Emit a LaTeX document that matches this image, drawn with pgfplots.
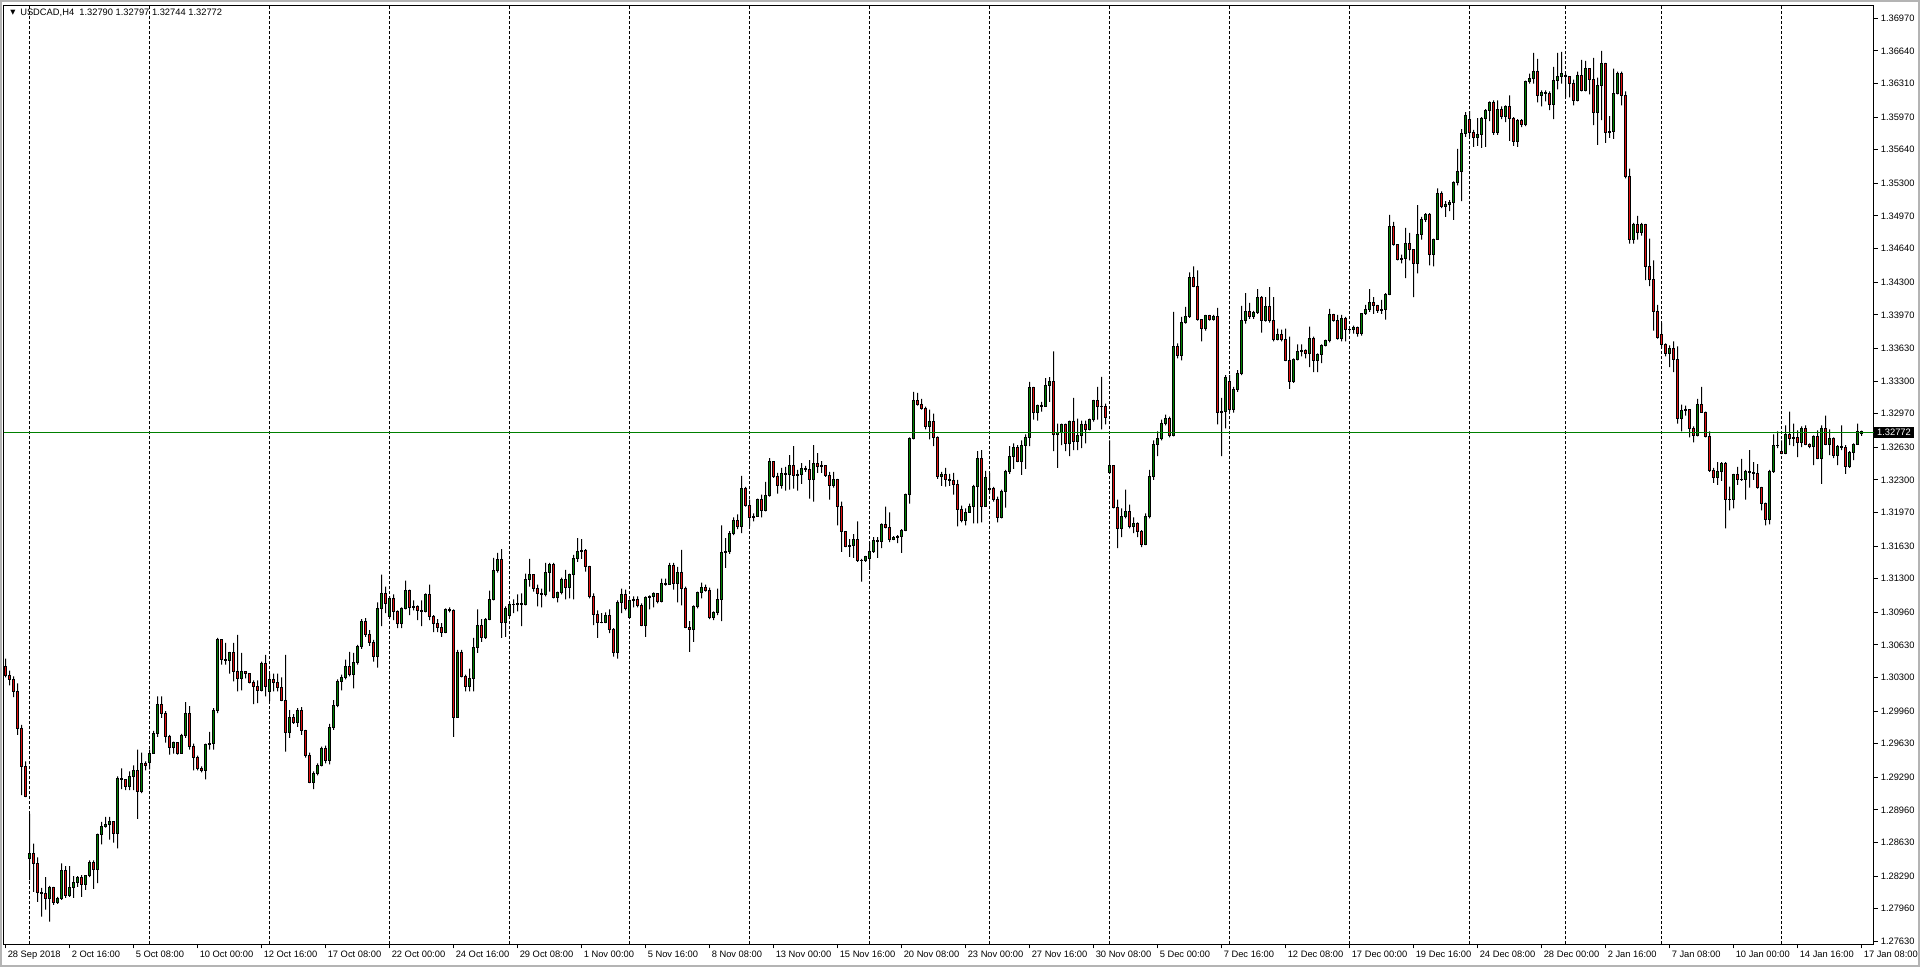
\documentclass[border=0pt]{standalone}
\usepackage{fontspec}
\setmainfont{Liberation Sans}
\newfontfamily\dejavu{DejaVu Sans}
\usepackage{pgfplots}
\usepackage{pgfplotstable}
\pgfplotsset{compat=1.18}
\definecolor{bull}{RGB}{0,128,0}
\definecolor{bear}{RGB}{225,15,15}
\definecolor{bidline}{RGB}{0,128,0}
\definecolor{winframe}{RGB}{180,180,180}
\pgfplotstableread{
i o h l c
0 1.3041 1.3049 1.3030 1.3032
1 1.3032 1.3037 1.3022 1.3028
2 1.3028 1.3031 1.3010 1.3016
3 1.3016 1.3024 1.2972 1.2978
4 1.2978 1.2982 1.2911 1.2940
5 1.2940 1.2945 1.2909 1.2910
6 1.2847 1.2892 1.2825 1.2852
7 1.2852 1.2862 1.2813 1.2842
8 1.2842 1.2848 1.2803 1.2812
9 1.2812 1.2817 1.2788 1.2811
10 1.2811 1.2828 1.2795 1.2806
11 1.2806 1.2819 1.2783 1.2817
12 1.2817 1.2818 1.2800 1.2802
13 1.2802 1.2808 1.2801 1.2806
14 1.2806 1.2842 1.2805 1.2835
15 1.2835 1.2839 1.2807 1.2809
16 1.2809 1.2839 1.2808 1.2817
17 1.2817 1.2829 1.2807 1.2823
18 1.2823 1.2829 1.2818 1.2828
19 1.2828 1.2830 1.2808 1.2821
20 1.2821 1.2830 1.2815 1.2830
21 1.2830 1.2845 1.2828 1.2843
22 1.2843 1.2845 1.2816 1.2836
23 1.2836 1.2872 1.2822 1.2871
24 1.2871 1.2884 1.2861 1.2879
25 1.2879 1.2889 1.2878 1.2881
26 1.2881 1.2889 1.2866 1.2884
27 1.2884 1.2884 1.2863 1.2872
28 1.2872 1.2930 1.2857 1.2928
29 1.2928 1.2938 1.2917 1.2927
30 1.2927 1.2927 1.2916 1.2920
31 1.2920 1.2935 1.2916 1.2930
32 1.2930 1.2941 1.2916 1.2936
33 1.2936 1.2957 1.2887 1.2915
34 1.2915 1.2954 1.2913 1.2943
35 1.2943 1.2945 1.2936 1.2941
36 1.2944 1.2957 1.2937 1.2953
37 1.2953 1.2976 1.2953 1.2973
38 1.2973 1.3011 1.2970 1.3003
39 1.3003 1.3011 1.2989 1.2994
40 1.2994 1.2996 1.2964 1.2970
41 1.2970 1.2972 1.2952 1.2959
42 1.2959 1.2965 1.2953 1.2964
43 1.2964 1.2964 1.2952 1.2953
44 1.2953 1.2973 1.2953 1.2971
45 1.2971 1.3005 1.2969 1.2994
46 1.2994 1.3001 1.2957 1.2960
47 1.2960 1.2963 1.2936 1.2949
48 1.2949 1.2951 1.2936 1.2938
49 1.2938 1.2940 1.2934 1.2936
50 1.2936 1.2963 1.2927 1.2962
51 1.2962 1.2975 1.2957 1.2963
52 1.2963 1.2999 1.2957 1.2997
53 1.2997 1.3070 1.2994 1.3068
54 1.3068 1.3068 1.3043 1.3048
55 1.3048 1.3065 1.3043 1.3047
56 1.3047 1.3056 1.3034 1.3055
57 1.3055 1.3065 1.3026 1.3036
58 1.3036 1.3073 1.3016 1.3029
59 1.3029 1.3055 1.3017 1.3036
60 1.3036 1.3036 1.3029 1.3034
61 1.3034 1.3034 1.3024 1.3025
62 1.3025 1.3027 1.3003 1.3021
63 1.3021 1.3027 1.3004 1.3017
64 1.3017 1.3046 1.3016 1.3044
65 1.3044 1.3053 1.3011 1.3021
66 1.3016 1.3034 1.3006 1.3028
67 1.3028 1.3034 1.3016 1.3025
68 1.3025 1.3034 1.3016 1.3020
69 1.3020 1.3030 1.3006 1.3007
70 1.3007 1.3053 1.2955 1.2974
71 1.2974 1.2997 1.2969 1.2990
72 1.2990 1.2993 1.2983 1.2984
73 1.2984 1.2999 1.2980 1.2997
74 1.2997 1.3000 1.2972 1.2976
75 1.2976 1.2977 1.2949 1.2951
76 1.2951 1.2954 1.2923 1.2924
77 1.2924 1.2935 1.2917 1.2933
78 1.2933 1.2943 1.2931 1.2941
79 1.2941 1.2960 1.2940 1.2958
80 1.2958 1.2961 1.2943 1.2946
81 1.2946 1.2983 1.2942 1.2979
82 1.2979 1.3007 1.2977 1.3002
83 1.3002 1.3028 1.3000 1.3026
84 1.3026 1.3033 1.3017 1.3030
85 1.3030 1.3048 1.3028 1.3041
86 1.3041 1.3056 1.3031 1.3033
87 1.3033 1.3055 1.3019 1.3045
88 1.3045 1.3063 1.3043 1.3061
89 1.3061 1.3089 1.3059 1.3087
90 1.3087 1.3090 1.3071 1.3073
91 1.3073 1.3078 1.3062 1.3065
92 1.3065 1.3068 1.3046 1.3051
93 1.3051 1.3106 1.3040 1.3100
94 1.3100 1.3134 1.3082 1.3115
95 1.3115 1.3122 1.3095 1.3105
96 1.3092 1.3112 1.3090 1.3110
97 1.3110 1.3114 1.3088 1.3097
98 1.3097 1.3098 1.3080 1.3085
99 1.3085 1.3101 1.3080 1.3100
100 1.3100 1.3128 1.3099 1.3118
101 1.3118 1.3119 1.3093 1.3101
102 1.3101 1.3108 1.3098 1.3102
103 1.3102 1.3103 1.3088 1.3098
104 1.3098 1.3108 1.3082 1.3097
105 1.3097 1.3115 1.3096 1.3114
106 1.3114 1.3124 1.3088 1.3092
107 1.3092 1.3093 1.3076 1.3085
108 1.3085 1.3089 1.3076 1.3081
109 1.3081 1.3085 1.3071 1.3076
110 1.3076 1.3100 1.3075 1.3099
111 1.3099 1.3101 1.3096 1.3098
112 1.3098 1.3099 1.2970 1.2990
113 1.2990 1.3058 1.2989 1.3055
114 1.3055 1.3058 1.3030 1.3031
115 1.3031 1.3033 1.3016 1.3021
116 1.3021 1.3039 1.3016 1.3029
117 1.3029 1.3070 1.3016 1.3060
118 1.3060 1.3099 1.3055 1.3083
119 1.3083 1.3089 1.3066 1.3070
120 1.3070 1.3090 1.3069 1.3089
121 1.3089 1.3118 1.3088 1.3109
122 1.3109 1.3151 1.3108 1.3138
123 1.3138 1.3156 1.3136 1.3149
124 1.3149 1.3160 1.3070 1.3086
125 1.3086 1.3102 1.3071 1.3100
126 1.3093 1.3106 1.3091 1.3104
127 1.3104 1.3109 1.3095 1.3104
128 1.3104 1.3114 1.3097 1.3105
129 1.3105 1.3115 1.3082 1.3104
130 1.3104 1.3135 1.3103 1.3129
131 1.3129 1.3150 1.3122 1.3134
132 1.3134 1.3134 1.3117 1.3120
133 1.3120 1.3124 1.3102 1.3115
134 1.3115 1.3120 1.3101 1.3114
135 1.3114 1.3146 1.3112 1.3136
136 1.3136 1.3146 1.3117 1.3144
137 1.3144 1.3146 1.3110 1.3111
138 1.3111 1.3117 1.3106 1.3116
139 1.3116 1.3131 1.3114 1.3129
140 1.3129 1.3139 1.3109 1.3121
141 1.3121 1.3135 1.3110 1.3134
142 1.3134 1.3154 1.3109 1.3150
143 1.3150 1.3171 1.3147 1.3157
144 1.3157 1.3170 1.3150 1.3158
145 1.3158 1.3160 1.3137 1.3142
146 1.3142 1.3143 1.3110 1.3112
147 1.3112 1.3115 1.3083 1.3094
148 1.3094 1.3098 1.3070 1.3086
149 1.3086 1.3095 1.3085 1.3086
150 1.3086 1.3096 1.3085 1.3093
151 1.3093 1.3099 1.3075 1.3079
152 1.3079 1.3080 1.3051 1.3055
153 1.3055 1.3108 1.3049 1.3106
154 1.3106 1.3120 1.3095 1.3114
155 1.3114 1.3119 1.3098 1.3100
156 1.3091 1.3109 1.3090 1.3108
157 1.3108 1.3112 1.3101 1.3109
158 1.3109 1.3112 1.3101 1.3103
159 1.3103 1.3105 1.3082 1.3083
160 1.3083 1.3112 1.3071 1.3111
161 1.3111 1.3113 1.3099 1.3112
162 1.3112 1.3116 1.3101 1.3115
163 1.3115 1.3115 1.3105 1.3107
164 1.3107 1.3130 1.3106 1.3125
165 1.3125 1.3130 1.3123 1.3124
166 1.3124 1.3146 1.3124 1.3143
167 1.3143 1.3146 1.3119 1.3125
168 1.3125 1.3142 1.3106 1.3136
169 1.3136 1.3159 1.3103 1.3120
170 1.3120 1.3122 1.3080 1.3081
171 1.3081 1.3087 1.3056 1.3079
172 1.3079 1.3103 1.3066 1.3102
173 1.3102 1.3117 1.3100 1.3116
174 1.3116 1.3126 1.3110 1.3121
175 1.3121 1.3124 1.3117 1.3118
176 1.3118 1.3121 1.3089 1.3091
177 1.3091 1.3097 1.3088 1.3096
178 1.3096 1.3120 1.3093 1.3109
179 1.3109 1.3184 1.3087 1.3156
180 1.3156 1.3171 1.3141 1.3157
181 1.3157 1.3178 1.3155 1.3176
182 1.3176 1.3192 1.3174 1.3189
183 1.3189 1.3195 1.3180 1.3183
184 1.3183 1.3234 1.3176 1.3221
185 1.3221 1.3223 1.3203 1.3204
186 1.3204 1.3210 1.3183 1.3192
187 1.3192 1.3196 1.3188 1.3193
188 1.3193 1.3211 1.3193 1.3210
189 1.3210 1.3215 1.3192 1.3199
190 1.3199 1.3228 1.3198 1.3214
191 1.3214 1.3252 1.3213 1.3249
192 1.3249 1.3249 1.3232 1.3233
193 1.3233 1.3237 1.3216 1.3224
194 1.3224 1.3242 1.3221 1.3236
195 1.3236 1.3243 1.3219 1.3235
196 1.3235 1.3255 1.3220 1.3244
197 1.3244 1.3264 1.3221 1.3234
198 1.3234 1.3240 1.3219 1.3235
199 1.3235 1.3247 1.3226 1.3241
200 1.3241 1.3244 1.3238 1.3240
201 1.3240 1.3250 1.3211 1.3230
202 1.3230 1.3265 1.3208 1.3247
203 1.3247 1.3257 1.3237 1.3243
204 1.3243 1.3249 1.3237 1.3245
205 1.3245 1.3245 1.3233 1.3234
206 1.3234 1.3238 1.3210 1.3224
207 1.3224 1.3238 1.3222 1.3230
208 1.3230 1.3231 1.3184 1.3203
209 1.3203 1.3208 1.3157 1.3178
210 1.3178 1.3178 1.3162 1.3163
211 1.3163 1.3170 1.3152 1.3164
212 1.3164 1.3175 1.3151 1.3170
213 1.3170 1.3188 1.3147 1.3148
214 1.3148 1.3150 1.3127 1.3148
215 1.3148 1.3153 1.3147 1.3152
216 1.3150 1.3167 1.3139 1.3157
217 1.3157 1.3172 1.3156 1.3169
218 1.3169 1.3172 1.3151 1.3168
219 1.3168 1.3186 1.3161 1.3185
220 1.3185 1.3203 1.3181 1.3182
221 1.3182 1.3197 1.3167 1.3170
222 1.3170 1.3173 1.3169 1.3172
223 1.3172 1.3174 1.3166 1.3173
224 1.3173 1.3180 1.3156 1.3179
225 1.3179 1.3216 1.3178 1.3215
226 1.3215 1.3273 1.3206 1.3272
227 1.3272 1.3319 1.3271 1.3310
228 1.3310 1.3318 1.3305 1.3306
229 1.3306 1.3312 1.3301 1.3302
230 1.3302 1.3304 1.3281 1.3284
231 1.3284 1.3301 1.3271 1.3289
232 1.3289 1.3297 1.3264 1.3273
233 1.3273 1.3274 1.3231 1.3233
234 1.3233 1.3238 1.3224 1.3235
235 1.3235 1.3242 1.3223 1.3230
236 1.3230 1.3236 1.3224 1.3229
237 1.3229 1.3237 1.3215 1.3225
238 1.3225 1.3230 1.3183 1.3200
239 1.3200 1.3204 1.3187 1.3189
240 1.3189 1.3201 1.3184 1.3197
241 1.3197 1.3206 1.3197 1.3203
242 1.3203 1.3225 1.3186 1.3223
243 1.3223 1.3259 1.3186 1.3252
244 1.3252 1.3260 1.3187 1.3203
245 1.3203 1.3239 1.3203 1.3232
246 1.3220 1.3237 1.3216 1.3221
247 1.3221 1.3223 1.3208 1.3210
248 1.3210 1.3213 1.3187 1.3192
249 1.3192 1.3220 1.3191 1.3218
250 1.3218 1.3240 1.3202 1.3238
251 1.3238 1.3264 1.3236 1.3254
252 1.3254 1.3267 1.3241 1.3263
253 1.3263 1.3265 1.3248 1.3249
254 1.3249 1.3270 1.3235 1.3265
255 1.3265 1.3276 1.3241 1.3273
256 1.3273 1.3329 1.3264 1.3323
257 1.3323 1.3324 1.3291 1.3298
258 1.3298 1.3306 1.3290 1.3305
259 1.3305 1.3309 1.3299 1.3304
260 1.3304 1.3333 1.3304 1.3325
261 1.3325 1.3334 1.3309 1.3330
262 1.3330 1.3360 1.3259 1.3276
263 1.3276 1.3287 1.3242 1.3278
264 1.3278 1.3287 1.3265 1.3286
265 1.3286 1.3287 1.3259 1.3267
266 1.3267 1.3290 1.3254 1.3289
267 1.3289 1.3313 1.3260 1.3269
268 1.3269 1.3292 1.3260 1.3275
269 1.3275 1.3290 1.3262 1.3286
270 1.3286 1.3290 1.3267 1.3281
271 1.3281 1.3292 1.3280 1.3291
272 1.3291 1.3311 1.3289 1.3310
273 1.3310 1.3324 1.3291 1.3304
274 1.3304 1.3334 1.3281 1.3304
275 1.3304 1.3307 1.3286 1.3293
276 1.3237 1.3270 1.3236 1.3244
277 1.3244 1.3245 1.3201 1.3202
278 1.3202 1.3210 1.3161 1.3181
279 1.3181 1.3201 1.3172 1.3193
280 1.3193 1.3220 1.3191 1.3198
281 1.3198 1.3205 1.3181 1.3183
282 1.3183 1.3192 1.3176 1.3186
283 1.3186 1.3187 1.3172 1.3178
284 1.3178 1.3179 1.3162 1.3165
285 1.3165 1.3196 1.3164 1.3193
286 1.3193 1.3240 1.3191 1.3233
287 1.3233 1.3270 1.3230 1.3266
288 1.3266 1.3279 1.3254 1.3272
289 1.3272 1.3291 1.3270 1.3287
290 1.3287 1.3296 1.3285 1.3292
291 1.3292 1.3294 1.3273 1.3275
292 1.3275 1.3400 1.3274 1.3365
293 1.3365 1.3368 1.3353 1.3356
294 1.3356 1.3395 1.3351 1.3389
295 1.3389 1.3405 1.3388 1.3395
296 1.3395 1.3440 1.3394 1.3435
297 1.3435 1.3446 1.3425 1.3426
298 1.3426 1.3442 1.3391 1.3392
299 1.3392 1.3392 1.3370 1.3383
300 1.3383 1.3397 1.3381 1.3396
301 1.3396 1.3397 1.3391 1.3392
302 1.3392 1.3397 1.3391 1.3395
303 1.3395 1.3404 1.3286 1.3298
304 1.3298 1.3313 1.3254 1.3299
305 1.3299 1.3336 1.3282 1.3334
306 1.3330 1.3336 1.3299 1.3301
307 1.3301 1.3324 1.3298 1.3321
308 1.3321 1.3341 1.3319 1.3338
309 1.3338 1.3406 1.3336 1.3391
310 1.3391 1.3419 1.3388 1.3400
311 1.3400 1.3409 1.3393 1.3395
312 1.3395 1.3401 1.3393 1.3399
313 1.3399 1.3423 1.3398 1.3414
314 1.3414 1.3416 1.3379 1.3391
315 1.3391 1.3415 1.3390 1.3405
316 1.3405 1.3425 1.3389 1.3391
317 1.3391 1.3415 1.3370 1.3372
318 1.3372 1.3383 1.3371 1.3377
319 1.3377 1.3382 1.3370 1.3372
320 1.3372 1.3383 1.3350 1.3351
321 1.3351 1.3375 1.3322 1.3329
322 1.3329 1.3353 1.3328 1.3352
323 1.3352 1.3367 1.3351 1.3360
324 1.3360 1.3367 1.3355 1.3361
325 1.3361 1.3362 1.3353 1.3358
326 1.3358 1.3385 1.3344 1.3373
327 1.3373 1.3375 1.3339 1.3351
328 1.3351 1.3358 1.3339 1.3357
329 1.3357 1.3367 1.3348 1.3366
330 1.3366 1.3372 1.3365 1.3371
331 1.3371 1.3403 1.3369 1.3397
332 1.3397 1.3398 1.3390 1.3391
333 1.3391 1.3397 1.3372 1.3373
334 1.3373 1.3397 1.3370 1.3393
335 1.3393 1.3395 1.3370 1.3382
336 1.3382 1.3383 1.3379 1.3382
337 1.3382 1.3386 1.3378 1.3384
338 1.3384 1.3385 1.3375 1.3378
339 1.3378 1.3398 1.3376 1.3398
340 1.3398 1.3407 1.3397 1.3402
341 1.3402 1.3423 1.3400 1.3409
342 1.3409 1.3415 1.3398 1.3406
343 1.3406 1.3407 1.3399 1.3401
344 1.3401 1.3412 1.3398 1.3402
345 1.3402 1.3419 1.3392 1.3418
346 1.3418 1.3498 1.3417 1.3486
347 1.3486 1.3491 1.3467 1.3468
348 1.3468 1.3468 1.3452 1.3453
349 1.3453 1.3458 1.3449 1.3454
350 1.3454 1.3485 1.3434 1.3469
351 1.3469 1.3480 1.3452 1.3463
352 1.3463 1.3463 1.3415 1.3449
353 1.3449 1.3508 1.3439 1.3478
354 1.3478 1.3496 1.3473 1.3493
355 1.3493 1.3500 1.3491 1.3498
356 1.3498 1.3500 1.3447 1.3458
357 1.3458 1.3474 1.3446 1.3473
358 1.3473 1.3525 1.3473 1.3520
359 1.3520 1.3522 1.3505 1.3507
360 1.3507 1.3512 1.3496 1.3509
361 1.3509 1.3513 1.3502 1.3511
362 1.3511 1.3532 1.3493 1.3531
363 1.3531 1.3565 1.3528 1.3542
364 1.3542 1.3585 1.3512 1.3580
365 1.3580 1.3602 1.3577 1.3599
366 1.3595 1.3603 1.3577 1.3581
367 1.3581 1.3584 1.3567 1.3576
368 1.3576 1.3596 1.3568 1.3579
369 1.3579 1.3597 1.3566 1.3596
370 1.3596 1.3605 1.3567 1.3604
371 1.3604 1.3613 1.3593 1.3612
372 1.3612 1.3614 1.3579 1.3581
373 1.3581 1.3614 1.3579 1.3605
374 1.3605 1.3608 1.3595 1.3598
375 1.3598 1.3609 1.3592 1.3608
376 1.3608 1.3619 1.3573 1.3596
377 1.3596 1.3597 1.3568 1.3572
378 1.3572 1.3595 1.3567 1.3594
379 1.3594 1.3595 1.3587 1.3590
380 1.3590 1.3634 1.3588 1.3633
381 1.3633 1.3641 1.3631 1.3636
382 1.3636 1.3662 1.3631 1.3643
383 1.3643 1.3656 1.3612 1.3619
384 1.3619 1.3624 1.3608 1.3622
385 1.3622 1.3624 1.3613 1.3621
386 1.3621 1.3623 1.3604 1.3610
387 1.3610 1.3648 1.3595 1.3634
388 1.3634 1.3662 1.3625 1.3638
389 1.3638 1.3663 1.3631 1.3641
390 1.3639 1.3641 1.3617 1.3638
391 1.3638 1.3638 1.3617 1.3631
392 1.3631 1.3635 1.3609 1.3614
393 1.3614 1.3643 1.3613 1.3639
394 1.3639 1.3655 1.3623 1.3624
395 1.3624 1.3654 1.3623 1.3646
396 1.3646 1.3646 1.3620 1.3635
397 1.3635 1.3657 1.3589 1.3602
398 1.3602 1.3637 1.3569 1.3629
399 1.3629 1.3664 1.3594 1.3651
400 1.3651 1.3652 1.3571 1.3581
401 1.3581 1.3598 1.3576 1.3582
402 1.3582 1.3646 1.3575 1.3621
403 1.3621 1.3643 1.3620 1.3641
404 1.3641 1.3643 1.3609 1.3619
405 1.3619 1.3623 1.3535 1.3537
406 1.3537 1.3545 1.3469 1.3473
407 1.3473 1.3490 1.3469 1.3488
408 1.3488 1.3497 1.3473 1.3480
409 1.3480 1.3490 1.3477 1.3488
410 1.3488 1.3489 1.3432 1.3446
411 1.3446 1.3474 1.3426 1.3433
412 1.3433 1.3452 1.3381 1.3400
413 1.3400 1.3407 1.3373 1.3374
414 1.3377 1.3389 1.3363 1.3367
415 1.3367 1.3368 1.3355 1.3358
416 1.3358 1.3366 1.3344 1.3363
417 1.3363 1.3370 1.3339 1.3352
418 1.3352 1.3365 1.3287 1.3292
419 1.3292 1.3306 1.3279 1.3300
420 1.3300 1.3305 1.3295 1.3301
421 1.3301 1.3301 1.3273 1.3282
422 1.3282 1.3284 1.3268 1.3275
423 1.3275 1.3312 1.3274 1.3306
424 1.3306 1.3324 1.3298 1.3298
425 1.3298 1.3299 1.3273 1.3274
426 1.3274 1.3279 1.3238 1.3239
427 1.3239 1.3242 1.3227 1.3232
428 1.3232 1.3248 1.3225 1.3238
429 1.3238 1.3248 1.3229 1.3247
430 1.3247 1.3248 1.3181 1.3210
431 1.3210 1.3223 1.3199 1.3210
432 1.3210 1.3236 1.3201 1.3235
433 1.3235 1.3243 1.3225 1.3230
434 1.3230 1.3251 1.3229 1.3230
435 1.3230 1.3240 1.3210 1.3238
436 1.3238 1.3260 1.3222 1.3237
437 1.3237 1.3248 1.3230 1.3236
438 1.3236 1.3246 1.3221 1.3222
439 1.3222 1.3223 1.3199 1.3206
440 1.3206 1.3207 1.3184 1.3190
441 1.3190 1.3240 1.3185 1.3238
442 1.3238 1.3276 1.3237 1.3265
443 1.3265 1.3279 1.3262 1.3265
444 1.3259 1.3270 1.3256 1.3257
445 1.3257 1.3285 1.3256 1.3276
446 1.3276 1.3299 1.3265 1.3272
447 1.3272 1.3287 1.3264 1.3273
448 1.3273 1.3280 1.3253 1.3268
449 1.3268 1.3284 1.3263 1.3282
450 1.3282 1.3285 1.3265 1.3266
451 1.3266 1.3267 1.3262 1.3264
452 1.3264 1.3275 1.3245 1.3274
453 1.3274 1.3280 1.3251 1.3252
454 1.3252 1.3285 1.3226 1.3282
455 1.3282 1.3295 1.3265 1.3266
456 1.3266 1.3281 1.3255 1.3272
457 1.3272 1.3273 1.3252 1.3255
458 1.3255 1.3265 1.3245 1.3264
459 1.3264 1.3285 1.3260 1.3263
460 1.3263 1.3265 1.3236 1.3243
461 1.3243 1.3259 1.3242 1.3258
462 1.3258 1.3267 1.3250 1.3266
463 1.3266 1.3287 1.3266 1.3279
464 1.32790 1.32797 1.32744 1.32772
}\candles
\begin{document}
\begin{tikzpicture}[x=1pt,y=1pt]
\useasboundingbox (0,0) rectangle (1440,725.25);
\fill[white] (0,0) rectangle (1440,725.25);
\draw[winframe, line width=1.5pt] (0.75,0.75) rectangle (1439.25,724.5);
\begin{axis}[
  at={(2.625pt,16.875pt)}, anchor=south west,
  scale only axis, width=1402.5pt, height=704.25pt,
  xmin=-0.5, xmax=467, ymin=1.27598, ymax=1.37100,
  ybar stacked, bar shift=0pt,
  clip mode=individual,
  axis line style={black, line width=0.75pt},
  tick style={black, line width=0.75pt},
  tick align=outside, major tick length=3pt,
  xtick pos=bottom, ytick pos=right, yticklabel pos=right,
  xtick={0,16,...,464},
  xticklabels={28 Sep 2018, 2 Oct 16:00, 5 Oct 08:00, 10 Oct 00:00, 12 Oct 16:00, 17 Oct 08:00, 22 Oct 00:00, 24 Oct 16:00, 29 Oct 08:00, 1 Nov 00:00, 5 Nov 16:00, 8 Nov 08:00, 13 Nov 00:00, 15 Nov 16:00, 20 Nov 08:00, 23 Nov 00:00, 27 Nov 16:00, 30 Nov 08:00, 5 Dec 00:00, 7 Dec 16:00, 12 Dec 08:00, 17 Dec 00:00, 19 Dec 16:00, 24 Dec 08:00, 28 Dec 00:00, 2 Jan 16:00, 7 Jan 08:00, 10 Jan 00:00, 14 Jan 16:00, 17 Jan 08:00},
  xticklabel style={anchor=north west, inner sep=0pt, xshift=1.5pt, yshift=-1.5pt, font=\fontsize{7}{8}\selectfont},
  ytick={1.27630,1.27960,1.28290,1.28630,1.28960,1.29290,1.29630,1.29960,1.30300,1.30630,1.30960,1.31300,1.31630,1.31970,1.32300,1.32630,1.32970,1.33300,1.33630,1.33970,1.34300,1.34640,1.34970,1.35300,1.35640,1.35970,1.36310,1.36640,1.36970},
  yticklabels={1.27630,1.27960,1.28290,1.28630,1.28960,1.29290,1.29630,1.29960,1.30300,1.30630,1.30960,1.31300,1.31630,1.31970,1.32300,1.32630,1.32970,1.33300,1.33630,1.33970,1.34300,1.34640,1.34970,1.35300,1.35640,1.35970,1.36310,1.36640,1.36970},
  yticklabel style={anchor=west, inner sep=0pt, xshift=2.25pt, font=\fontsize{7}{8}\selectfont},
  extra x ticks={6,36,66,96,126,156,186,216,246,276,306,336,366,390,414,444},
  extra x tick labels={},
  extra x tick style={grid=major, major tick length=0pt, major grid style={black, line width=0.75pt, dash pattern=on 2.25pt off 1.5pt}},
]
\draw[bidline, line width=0.75pt] (axis cs:-0.5,1.32779) -- (axis cs:467,1.32779);
% stack 0 -> low (invisible)
\addplot[draw=none, fill=none, bar width=0.75pt, forget plot]
  table[x=i, y=l] {\candles};
% low -> body bottom : lower wick
\addplot[draw=none, fill=black, bar width=0.75pt, forget plot]
  table[x=i, y expr={max(0,min(\thisrow{o},\thisrow{c})-\thisrow{l})}] {\candles};
% bull body (doji drawn as a tick)
\addplot[draw=black, line width=0.75pt, fill=bull, bar width=1.5pt, forget plot]
  table[x=i, y expr={(\thisrow{c}<\thisrow{o}) ? 0 : max(\thisrow{c}-\thisrow{o},0.00001)}] {\candles};
% bear body
\addplot[draw=black, line width=0.75pt, fill=bear, bar width=1.5pt, forget plot]
  table[x=i, y expr={(\thisrow{o}>\thisrow{c}) ? \thisrow{o}-\thisrow{c} : 0}] {\candles};
% body top -> high : upper wick
\addplot[draw=none, fill=black, bar width=0.75pt, forget plot]
  table[x=i, y expr={max(0,\thisrow{h}-max(\thisrow{o},\thisrow{c}))}] {\candles};
\node[fill=black, text=white, anchor=west, inner xsep=2pt, inner ysep=1.8pt, xshift=0.5pt, font=\fontsize{7}{8}\selectfont] at (axis cs:467,1.32779) {1.32772};
\end{axis}
\node[anchor=west, inner sep=0pt, font=\dejavu\fontsize{5}{6}\selectfont] at (7.5,715.5) {▼};
\node[anchor=west, inner sep=0pt, font=\fontsize{7}{8}\selectfont] at (15,715.5) {USDCAD,H4\ \ 1.32790 1.32797 1.32744 1.32772};
\end{tikzpicture}
\end{document}
